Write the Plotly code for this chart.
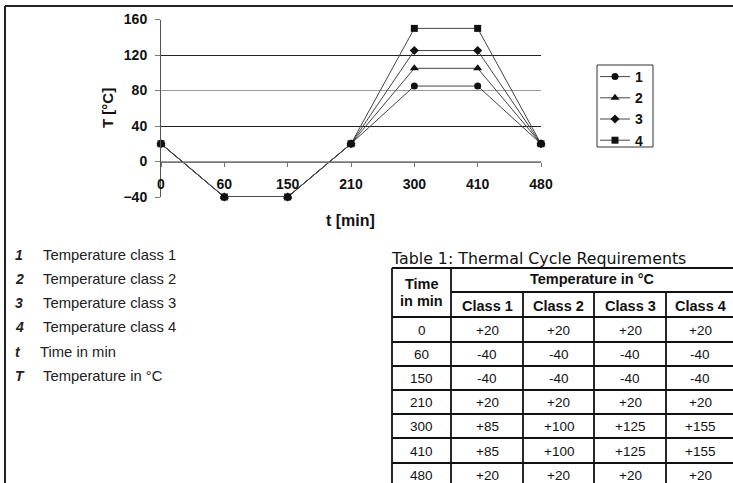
import plotly.graph_objects as go

W, H = 733, 483

# ---------------- data ----------------
times = ["0", "60", "150", "210", "300", "410", "480"]
class1 = [20, -40, -40, 20, 85, 85, 20]
class2 = [20, -40, -40, 20, 105, 105, 20]
class3 = [20, -40, -40, 20, 125, 125, 20]
class4 = [20, -40, -40, 20, 150, 150, 20]
series_names = ["1", "2", "3", "4"]
series_symbols = ["circle", "triangle-up", "diamond", "square"]
y_ticks = [-40, 0, 40, 80, 120, 160]

key_symbols = ["1", "2", "3", "4", "t", "T"]
key_texts = ["Temperature class 1", "Temperature class 2", "Temperature class 3",
             "Temperature class 4", "Time in min", "Temperature in °C"]

table_title = "Table 1: Thermal Cycle Requirements"
table_times = ["0", "60", "150", "210", "300", "410", "480"]
table_class1 = ["+20", "-40", "-40", "+20", "+85", "+85", "+20"]
table_class2 = ["+20", "-40", "-40", "+20", "+100", "+100", "+20"]
table_class3 = ["+20", "-40", "-40", "+20", "+125", "+125", "+20"]
table_class4 = ["+20", "-40", "-40", "+20", "+155", "+155", "+20"]
table_classes = ["Class 1", "Class 2", "Class 3", "Class 4"]


def X(px):
    return px / W


def Y(py):
    return 1 - py / H


ARIAL = "Arial, Liberation Sans, sans-serif"

fig = go.Figure()

for name, vals, sym in zip(series_names, [class1, class2, class3, class4], series_symbols):
    fig.add_trace(go.Scatter(
        x=times, y=vals, name=f"<b>{name}</b>", mode="lines+markers",
        line=dict(color="#444444", width=1),
        marker=dict(symbol=sym, size=7 if sym != "triangle-up" else 8, color="#111111"),
        cliponaxis=False,
    ))

# dark gridlines overlay axis
fig.add_trace(go.Scatter(x=times, y=class1, yaxis="y2", mode="lines",
                         line=dict(width=0), opacity=0, showlegend=False, hoverinfo="skip"))

ydom = [Y(197), Y(19.5)]
xpos = ydom[0] + (0 - (-40)) / 200 * (ydom[1] - ydom[0])

fig.update_layout(
    width=W, height=H,
    margin=dict(l=0, r=0, t=0, b=0, pad=0, autoexpand=False),
    paper_bgcolor="white", plot_bgcolor="white",
    showlegend=True,
    legend=dict(x=X(595), y=Y(61), xanchor="left", yanchor="top",
                borderwidth=0, bgcolor="rgba(0,0,0,0)",
                font=dict(family=ARIAL, size=14, color="#111111"),
                itemwidth=30, tracegroupgap=0),
    xaxis=dict(type="category", domain=[X(161), X(541)], range=[0, 6],
               anchor="free", position=xpos, side="bottom", automargin=False,
               showline=True, linecolor="#777777", linewidth=1,
               ticks="outside", ticklen=4, tickcolor="#777777",
               showgrid=False, zeroline=False,
               tickfont=dict(family=ARIAL, size=14, color="#111111", weight="bold"),
               ticklabelstandoff=6),
    yaxis=dict(domain=ydom, range=[-40, 160], tickvals=y_ticks, automargin=False,
               showline=True, linecolor="#555555", linewidth=1,
               ticks="outside", ticklen=5, tickcolor="#777777",
               showgrid=True, gridcolor="#9a9a9a", gridwidth=1, zeroline=False,
               tickfont=dict(family=ARIAL, size=14, color="#111111", weight="bold"),
               ticklabelstandoff=5),
    yaxis2=dict(overlaying="y", range=[-40, 160], tickvals=[-40, 40, 120], automargin=False,
                showticklabels=False, showgrid=True, gridcolor="#222222", gridwidth=1,
                zeroline=False, showline=False, ticks=""),
)


def ann(text, px, py, size, xanchor="center", family=ARIAL, color="#111111", angle=0):
    return dict(x=X(px), y=Y(py), xref="paper", yref="paper", text=text,
                xanchor=xanchor, yanchor="middle", textangle=angle, showarrow=False,
                font=dict(family=family, size=size, color=color))


annotations = []
annotations.append(ann("<b>t [min]</b>", 350, 221, 16))
annotations.append(ann("<b>T [°C]</b>", 108, 108, 15, angle=-90))

key_rows = [255, 279, 303, 327, 351.5, 375.5]
key_text_x = [41, 41, 41, 41, 38, 41]
for s, t, ry, tx in zip(key_symbols, key_texts, key_rows, key_text_x):
    annotations.append(ann(f"<b><i>{s}</i></b>", 13, ry, 14, xanchor="left", color="#222222"))
    annotations.append(ann(t, tx, ry, 14.8, xanchor="left", color="#222222"))

# ---------------- table ----------------
annotations.append(ann(table_title, 389, 258, 15.8, xanchor="left", family="DejaVu Sans"))

col_x = [392, 451, 523, 594, 666, 734]
row_y = [268, 292, 317, 342, 366, 390, 414, 438, 463, 487]
line_c = "#111111"
lw = 1.8
shapes = []
# frame
shapes.append(dict(type="line", xref="paper", yref="paper", x0=X(5), x1=X(5), y0=Y(6), y1=Y(483),
                   line=dict(color="#222222", width=2)))
shapes.append(dict(type="line", xref="paper", yref="paper", x0=X(5), x1=X(733), y0=Y(6), y1=Y(6),
                   line=dict(color="#222222", width=2)))
# legend box
shapes.append(dict(type="rect", xref="paper", yref="paper", x0=X(597), x1=X(653), y0=Y(65), y1=Y(147),
                   line=dict(color="#333333", width=1)))
for i, cx in enumerate(col_x):
    top = row_y[0] if i in (0, 1, 5) else row_y[1]
    shapes.append(dict(type="line", xref="paper", yref="paper", x0=X(cx), x1=X(cx),
                       y0=Y(top), y1=Y(row_y[-1]), line=dict(color=line_c, width=lw)))
for j, ry in enumerate(row_y):
    left = col_x[1] if j == 1 else col_x[0]
    shapes.append(dict(type="line", xref="paper", yref="paper", x0=X(left), x1=X(col_x[-1]),
                       y0=Y(ry), y1=Y(ry), line=dict(color=line_c, width=lw)))


def cell(text, cx, cy, bold=False):
    annotations.append(ann(f"<b>{text}</b>" if bold else text, cx, cy, 14.5 if bold else 13.5))


cell("Time", (col_x[0] + col_x[1]) / 2, 284, True)
cell("in min", (col_x[0] + col_x[1]) / 2, 301, True)
cell("Temperature in °C", (col_x[1] + col_x[5]) / 2, 279, True)
for k, cname in enumerate(table_classes):
    cell(cname, (col_x[k + 1] + col_x[k + 2]) / 2, (row_y[1] + row_y[2]) / 2 + 1, True)

cols = [table_times, table_class1, table_class2, table_class3, table_class4]
for r in range(len(table_times)):
    cy = (row_y[r + 2] + row_y[r + 3]) / 2 + 0.5
    for c, colvals in enumerate(cols):
        cell(colvals[r], (col_x[c] + col_x[c + 1]) / 2, cy)

fig.update_layout(annotations=annotations, shapes=shapes)
fig.write_html("out.html", config={"displayModeBar": False},
               post_script="document.body.style.margin='0';document.body.style.overflow='hidden';")
